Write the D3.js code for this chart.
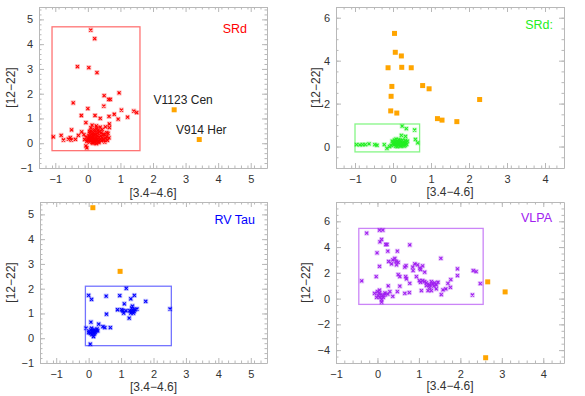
<!DOCTYPE html>
<html>
<head>
<meta charset="utf-8">
<script src="https://cdn.jsdelivr.net/npm/d3@7"></script>
<style>
  body { margin: 0; background: #fff; }
  svg { display: block; font-family: "Liberation Sans", Arial, sans-serif; }
</style>
</head>
<body>
<svg id="chart" width="585" height="396"></svg>
<script>
// ---- data: [3.4-4.6] vs [12-22] colours ----
const srdPts = [
  [0.09,4.57],[0.21,4.22],[-0.32,3.09],[0.03,3.05],[0.28,2.85],[0.96,2.03],[0.5,1.92],[0.69,1.77],[0.64,1.77],
  [-0.45,1.63],[0.49,1.5],[0.0,1.4],[1.03,1.34],[1.41,1.3],[1.5,1.24],[-0.2,1.12],[0.22,1.12],[0.81,1.17],
  [0.65,1.08],[1.22,1.05],[0.93,0.97],[0.38,1.0],[-0.06,0.83],[0.66,0.78],[0.66,0.63],[-0.5,0.54],
  [-1.06,0.26],[-0.82,0.32],[-0.75,0.13],[-0.6,0.17],[-0.54,0.23],[-0.29,0.32],[-0.19,0.46],[-0.38,0.16],
  [-0.51,0.13],[-0.06,-0.11],[-0.03,-0.19],[0.13,0.73],[0.26,0.7],[0.38,0.65],[0.54,0.66],[0.58,0.43],
  [0.48,0.36],[0.31,0.51],[0.17,0.43],[0.05,0.48],
  [0.02,0.12],[0.05,0.05],[0.08,0.18],[0.1,0.1],[0.12,0.25],[0.14,0.02],[0.15,0.15],[0.17,0.3],[0.18,0.08],
  [0.2,0.2],[0.22,0.12],[0.24,0.35],[0.25,0.05],[0.27,0.22],[0.3,0.14],[0.31,0.4],[0.33,0.08],[0.35,0.25],
  [0.38,0.18],[0.4,0.3],[0.42,0.1],[0.45,0.22],[0.48,0.15],[0.5,0.35],[0.55,0.2],[0.6,0.12],[0.62,0.4],
  [0.03,0.3],[0.06,0.4],[0.0,0.2],[-0.03,0.08],[-0.06,0.25],[-0.1,0.15],[0.1,0.5],[0.2,0.55],[0.28,0.6],
  [0.36,0.48],[0.44,0.55],[0.13,0.38],[0.23,0.45],[0.16,0.0],[0.26,-0.02],[0.11,0.28],[0.19,0.35],[0.29,0.3],
  [0.07,0.22],[0.34,0.02],[0.41,0.42],[0.52,0.05],[0.58,0.28],[0.65,0.22],[0.09,0.62],[-0.12,0.35],
  [0.16,0.12],[0.21,0.06],[0.12,0.18],[0.24,0.16],[0.05,0.14]
];
const srdOut = [[2.65,1.35],[3.42,0.15]];
const srdNames = ["V1123 Cen","V914 Her"];

const srdcPts = [
  [-0.96,0.09],[-0.87,0.08],[-0.8,0.09],[-0.73,0.09],[-0.63,0.12],[-0.48,0.09],[-0.42,0.06],[-0.23,0.09],
  [-0.16,-0.09],[-0.09,0.0],[0.24,0.95],[0.35,0.83],[0.57,0.77],[0.22,0.52],[0.33,0.47],[0.59,0.33],[0.65,0.17],
  [-0.05,0.05],[0.0,0.15],[0.02,0.08],[0.05,0.22],[0.07,0.02],[0.1,0.12],[0.12,0.25],[0.14,0.05],[0.16,0.18],
  [0.18,0.1],[0.2,0.28],[0.22,0.03],[0.24,0.15],[0.26,0.08],[0.28,0.22],[0.3,0.12],[0.32,0.05],[0.34,0.18],
  [0.36,0.1],[0.38,0.25],[0.04,0.3],[0.08,0.35],[0.15,0.32],[0.25,0.3],[-0.02,0.25],[0.11,0.0],[0.19,0.02],
  [0.27,0.15],[0.33,0.28],[0.06,0.12],[0.13,0.15],[0.21,0.12],[0.29,0.02],[0.09,0.2],[0.17,0.25]
];
const srdcOut = [
  [0.04,5.27],[0.06,4.39],[0.22,4.22],[-0.13,3.67],[0.23,3.69],[0.48,3.67],[-0.03,2.8],[-0.05,2.34],
  [0.78,2.84],[0.95,2.69],[2.28,2.19],[-0.06,1.66],[0.1,1.56],[1.17,1.3],[1.29,1.23],[1.68,1.16]
];

const rvPts = [
  [0.0,1.73],[0.09,1.57],[0.54,1.7],[0.96,1.72],[1.16,2.01],[1.41,1.73],[1.3,1.59],[1.76,1.49],[2.51,1.18],
  [0.55,0.97],[0.89,1.15],[1.02,1.15],[1.08,1.01],[1.05,1.11],[1.1,1.39],[1.27,1.11],[1.33,1.22],[1.4,1.08],
  [1.49,1.18],[1.25,0.81],[1.33,1.08],[1.36,1.15],[1.3,1.01],[1.43,1.15],[1.38,1.01],[1.15,1.11],[1.35,1.3],
  [-0.08,0.41],[0.07,0.65],[0.31,0.57],[0.44,0.47],[0.5,0.43],[0.67,0.43],[0.05,-0.24],[0.15,0.07],[0.02,0.27],
  [0.0,0.23],[0.09,0.41],[0.17,0.34],[0.23,0.3],[0.12,0.24],[0.05,0.2],[0.2,0.24],[0.26,0.38],[0.07,0.34],
  [0.15,0.27],[0.28,0.3],[0.1,0.15],[0.18,0.18],[0.13,0.32]
];
const rvOut = [[0.13,5.27],[0.97,2.7]];

const vlpaPts = [
  [-0.26,5.08],[0.05,5.31],[0.13,5.31],[-0.38,1.37],[0.06,4.4],[0.1,4.59],[0.2,4.2],[0.23,4.2],[-0.01,3.55],
  [0.25,3.68],[0.48,3.68],[0.78,4.17],[0.05,2.51],[-0.03,1.71],[0.27,2.88],[0.37,3.0],[0.42,3.13],[0.45,2.88],
  [0.34,2.69],[0.46,2.62],[0.5,2.82],[0.66,2.44],[0.69,2.56],[0.85,2.44],[0.9,2.69],[0.97,2.62],[1.02,2.36],
  [1.09,2.54],[1.04,2.25],[1.14,2.05],[0.86,2.18],[1.53,3.13],[0.5,1.87],[0.54,1.71],[0.68,1.71],[0.7,1.53],
  [0.94,1.71],[1.01,1.4],[1.04,1.27],[0.78,1.19],[0.54,0.96],[0.26,0.98],[0.48,0.54],[0.66,0.41],[0.77,0.47],
  [1.06,0.62],[1.22,0.62],[1.3,0.62],[1.42,0.75],[1.54,0.31],[1.58,0.67],[1.65,0.75],[1.7,1.19],[1.76,0.88],
  [1.77,1.48],[1.93,2.31],[1.93,1.79],[2.31,2.18],[2.38,2.1],[2.48,1.17],[2.29,0.28],
  [1.18,1.01],[1.26,1.06],[1.33,1.14],[1.26,0.88],[1.36,0.96],[1.42,1.06],[1.18,1.22],[1.09,1.4],[1.14,1.32],
  [1.3,1.32],[1.38,1.22],[1.46,1.27],[1.25,1.06],
  [-0.07,0.41],[0.0,0.54],[0.05,0.65],[0.08,0.28],[0.02,0.23],[0.13,0.23],[0.18,0.28],[0.25,0.34],[-0.02,0.1],
  [0.06,0.1],[0.1,-0.28],[0.18,0.44],[0.3,0.54],[0.37,0.18],[0.14,0.1],[0.05,0.44],[0.1,-0.08]
];
const vlpaOut = [[2.66,1.3],[3.08,0.52],[2.61,-4.59]];

// selection boxes [x0, x1, y0, y1]
const srdBox = [-1.1, 1.6, -0.3, 4.7];
const srdcBox = [-1.0, 0.7, -0.25, 1.05];
const rvBox = [-0.1, 2.55, -0.3, 2.1];
const vlpaBox = [-0.45, 2.55, -0.45, 5.45];

const xTicksA = [-1, 0, 1, 2, 3, 4, 5];
const xTicksB = [-1, 0, 1, 2, 3, 4];
const yTicksA = [-1, 0, 1, 2, 3, 4, 5];
const yTicksB = [0, 2, 4, 6];
const yTicksC = [-4, -2, 0, 2, 4, 6];

const svg = d3.select('#chart');
const frameColor = '#b8b8b8';
const textColor = '#333';
const orange = '#ffa500';
const fmt = d3.format('d');

function range(a, b, step) {
  const out = [];
  for (let v = a; v <= b + 1e-9; v += step) out.push(+v.toFixed(4));
  return out;
}

function drawPanel(p) {
  const g = svg.append('g').attr('transform', 'translate(' + p.left + ',' + p.top + ')');
  const w = p.width, h = p.height;

  const x = d3.scaleLinear().domain(p.xDomain).range([0, w]);
  const y = d3.scaleLinear().domain(p.yDomain).range([h, 0]);

  // frame + ticks on all four sides
  const styleAxis = sel => {
    sel.selectAll('.domain').attr('stroke', frameColor);
    sel.selectAll('.tick line').attr('stroke', frameColor);
    sel.selectAll('.tick text').attr('fill', textColor).style('font-size', '11px');
  };
  g.append('g').attr('transform', 'translate(0,' + h + ')')
    .call(d3.axisBottom(x).tickValues(p.xTicks).tickFormat(fmt).tickSize(-5).tickSizeOuter(0).tickPadding(7))
    .call(styleAxis);
  g.append('g')
    .call(d3.axisTop(x).tickValues(p.xTicks).tickSize(-5).tickSizeOuter(0).tickFormat(''))
    .call(styleAxis);
  g.append('g')
    .call(d3.axisLeft(y).tickValues(p.yTicks).tickFormat(fmt).tickSize(-5).tickSizeOuter(0).tickPadding(6))
    .call(styleAxis);
  g.append('g').attr('transform', 'translate(' + w + ',0)')
    .call(d3.axisRight(y).tickValues(p.yTicks).tickSize(-5).tickSizeOuter(0).tickFormat(''))
    .call(styleAxis);

  // minor ticks
  const xm = range(p.xDomain[0], p.xDomain[1], 0.2);
  const ym = range(p.yDomain[0], p.yDomain[1], p.yMinor);
  [[d3.axisBottom(x).tickValues(xm), 'translate(0,' + h + ')'],
   [d3.axisTop(x).tickValues(xm), 'translate(0,0)'],
   [d3.axisLeft(y).tickValues(ym), 'translate(0,0)'],
   [d3.axisRight(y).tickValues(ym), 'translate(' + w + ',0)']].forEach(([ax, tr]) => {
    g.append('g').attr('transform', tr)
      .call(ax.tickSize(-2.5).tickFormat(''))
      .call(s => s.select('.domain').remove())
      .call(s => s.selectAll('.tick line').attr('stroke', frameColor));
  });

  // axis titles
  g.append('text')
    .attr('x', w / 2).attr('y', h + p.xTitleDy)
    .attr('text-anchor', 'middle')
    .attr('fill', textColor)
    .style('font-size', '12px')
    .text('[3.4\u22124.6]');
  g.append('text')
    .attr('transform', 'translate(' + (-p.yTitleDx) + ',' + (h / 2) + ') rotate(-90)')
    .attr('text-anchor', 'middle')
    .attr('fill', textColor)
    .style('font-size', '12px')
    .text('[12\u221222]');

  // selection box
  g.append('rect')
    .attr('x', x(p.box[0])).attr('y', y(p.box[3]))
    .attr('width', x(p.box[1]) - x(p.box[0]))
    .attr('height', y(p.box[2]) - y(p.box[3]))
    .attr('fill', 'none')
    .attr('stroke', p.color)
    .attr('stroke-opacity', 0.55)
    .attr('stroke-width', 1.3);

  // member points: small x with a soft halo
  const pts = g.append('g');
  pts.selectAll('rect.halo')
    .data(p.points)
    .join('rect')
    .attr('class', 'halo')
    .attr('x', d => x(d[0]) - 2.5).attr('y', d => y(d[1]) - 2.5)
    .attr('width', 5).attr('height', 5)
    .attr('fill', p.color).attr('fill-opacity', 0.25);
  pts.selectAll('path')
    .data(p.points)
    .join('path')
    .attr('d', d => {
      const cx = x(d[0]), cy = y(d[1]), r = 1.5;
      return 'M' + (cx - r) + ',' + (cy - r) + 'L' + (cx + r) + ',' + (cy + r) +
             'M' + (cx - r) + ',' + (cy + r) + 'L' + (cx + r) + ',' + (cy - r);
    })
    .attr('stroke', p.color)
    .attr('stroke-width', 1.1)
    .attr('fill', 'none');

  // outliers: orange squares
  g.selectAll('rect.out')
    .data(p.outliers)
    .join('rect')
    .attr('class', 'out')
    .attr('x', d => x(d[0]) - 2.5).attr('y', d => y(d[1]) - 2.5)
    .attr('width', 5).attr('height', 5)
    .attr('fill', orange);

  // class label
  g.append('text')
    .attr('x', w - p.labelDx).attr('y', p.labelY)
    .attr('text-anchor', 'end')
    .attr('fill', p.color)
    .style('font-size', '12.5px')
    .text(p.label);

  return { g, x, y };
}

const p1 = drawPanel({
  left: 39, top: 7, width: 228, height: 161,
  xDomain: [-1.5, 5.5], yDomain: [-1, 5.5], xTicks: xTicksA, yTicks: yTicksA, yMinor: 0.2,
  points: srdPts, outliers: srdOut, box: srdBox, color: '#ff0000',
  label: 'SRd', labelDx: 20, labelY: 26, xTitleDy: 29, yTitleDx: 24
});
const p2 = drawPanel({
  left: 336, top: 7, width: 228, height: 161,
  xDomain: [-1.5, 4.5], yDomain: [-1, 6.5], xTicks: xTicksB, yTicks: yTicksB, yMinor: 0.5,
  points: srdcPts, outliers: srdcOut, box: srdcBox, color: '#22ee22',
  label: 'SRd:', labelDx: 11, labelY: 22, xTitleDy: 28, yTitleDx: 16
});
drawPanel({
  left: 40, top: 202, width: 227, height: 161,
  xDomain: [-1.5, 5.5], yDomain: [-1, 5.5], xTicks: xTicksA, yTicks: yTicksA, yMinor: 0.2,
  points: rvPts, outliers: rvOut, box: rvBox, color: '#0000ff',
  label: 'RV Tau', labelDx: 12, labelY: 22, xTitleDy: 28, yTitleDx: 25
});
drawPanel({
  left: 336, top: 202, width: 228, height: 161,
  xDomain: [-1, 4.5], yDomain: [-5, 7.5], xTicks: xTicksB, yTicks: yTicksC, yMinor: 0.5,
  points: vlpaPts, outliers: vlpaOut, box: vlpaBox, color: '#a020f0',
  label: 'VLPA', labelDx: 12, labelY: 20, xTitleDy: 27, yTitleDx: 26
});

// star names next to the two SRd outliers
const nameDx = [9, 2];
p1.g.selectAll('text.name')
  .data(srdOut)
  .join('text')
  .attr('class', 'name')
  .attr('x', (d, i) => p1.x(d[0]) + nameDx[i])
  .attr('y', d => p1.y(d[1]) - 6)
  .attr('text-anchor', 'middle')
  .attr('fill', '#222')
  .style('font-size', '12px')
  .text((d, i) => srdNames[i]);
</script>
</body>
</html>
